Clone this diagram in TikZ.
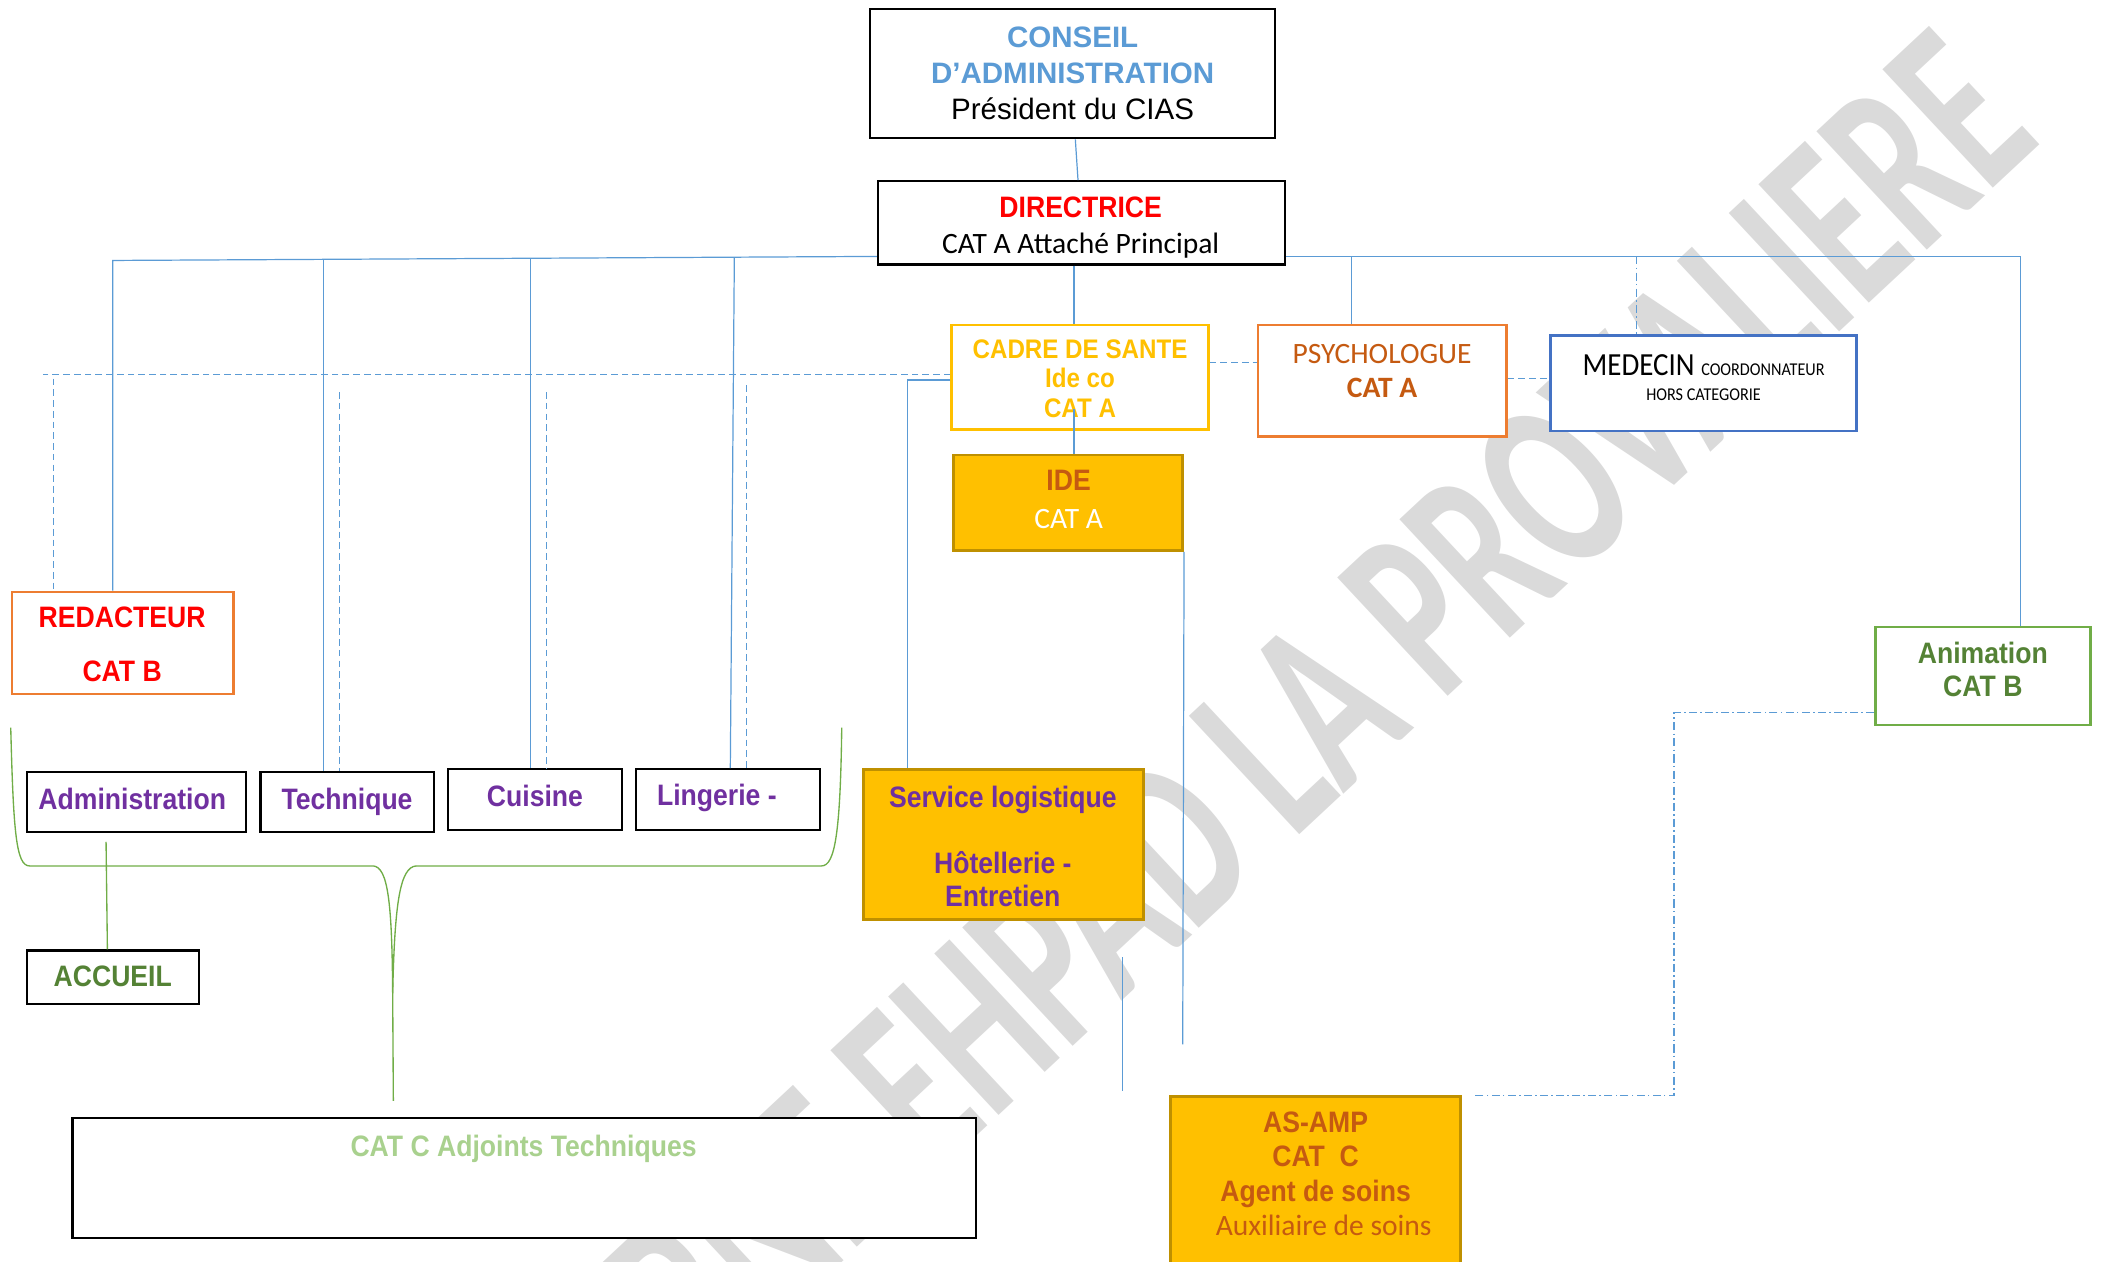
\documentclass[tikz,border=0pt]{standalone}
\usepackage{fontspec}
\setmainfont{Liberation Sans}
\newfontfamily\fnarrow[FakeStretch=0.9]{Liberation Sans}
\newfontfamily\fcal{Carlito}
\newfontfamily\fcalnar[FakeStretch=0.9]{Carlito}
\newfontfamily\fwm[FakeStretch=0.645]{Carlito}
\usetikzlibrary{fit,calc}
\definecolor{cblue}{HTML}{5B9BD5}
\definecolor{cred}{HTML}{FF0000}
\definecolor{cyel}{HTML}{FFC000}
\definecolor{cora}{HTML}{ED7D31}
\definecolor{cbrn}{HTML}{C55A11}
\definecolor{cpur}{HTML}{7030A0}
\definecolor{cgrn}{HTML}{548235}
\definecolor{cgrnb}{HTML}{70AD47}
\definecolor{clgrn}{HTML}{A9D18E}
\definecolor{cmed}{HTML}{4472C4}
\definecolor{cgold}{HTML}{BF9000}
\definecolor{cwm}{HTML}{DADADA}
\begin{document}
\begin{tikzpicture}[x=0.5pt,y=-0.5pt,
  box/.style={draw=black, fill=white, line width=0.8pt, inner sep=0pt},
  cbox/.style={box, line width=1pt},
  gbox/.style={box, draw=cgold, fill=cyel, line width=1pt},
  conn/.style={draw=cblue, line width=0.45pt},
  dsh/.style={conn, dash pattern=on 2.5pt off 1.5pt},
  dshdot/.style={conn, dash pattern=on 3pt off 1.2pt on 0.6pt off 1.2pt},
  gline/.style={draw=cgrnb, line width=0.5pt},
  txt/.style={inner sep=0pt, align=center},
  nb/.style={txt, font=\fnarrow\bfseries\fontsize{11}{13}\selectfont}
]
\useasboundingbox (0,0) rectangle (1568,939.3);
\clip (0,0) rectangle (1568,939.3);

% watermark
\node[rotate=43, anchor=east, text=cwm, inner sep=0pt,
      font=\fwm\bfseries\fontsize{93}{93}\selectfont] (wm) at (1481.6,60.6) {INTERNE EHPAD LA PROVALIERE};

% boxes
\node[box, fit={(648,7) (950,103)}] (conseil) {};
\node[box, fit={(654,135) (957,197)}] (dir) {};
\node[cbox, draw=cyel, fit={(709,242) (900,320)}] (cadre) {};
\node[cbox, draw=cora, fit={(937,242) (1122,325)}] (psy) {};
\node[cbox, draw=cmed, fit={(1155,250) (1383,321)}] (med) {};
\node[gbox, fit={(710,339) (881,410)}] (ide) {};
\node[cbox, draw=cora, fit={(9,441) (174,517)}] (red) {};
\node[box, fit={(20,575) (183,620)}] (adm) {};
\node[box, fit={(194,575) (323,620)}] (tec) {};
\node[box, fit={(334,573) (463,618)}] (cui) {};
\node[box, fit={(474,573) (611,618)}] (lin) {};
\node[box, fit={(20,708) (148,748)}] (acc) {};
\node[box, fit={(54,833) (727,922)}] (catc) {};
\node[gbox, fit={(643,573) (852,685)}] (ser) {};
\node[gbox, fit={(872,817) (1088,965)}] (as) {};
\node[cbox, draw=cgrnb, fit={(1397,467) (1557,540)}] (ani) {};

% texts
\node[txt, text=cblue, font=\bfseries\fontsize{11}{13.5}\selectfont] (conseilT) at (799,54.5)
  {CONSEIL\\D’ADMINISTRATION\\\textcolor{black}{\mdseries Président du CIAS}};
\node[txt, font=\fontsize{11}{13.5}\selectfont] (dirT) at (805,169.5)
  {\textcolor{cred}{\fnarrow\bfseries DIRECTRICE}\\{\fcal CAT A Attaché Principal}};
\node[txt, text=cyel, font=\fnarrow\bfseries\fontsize{10}{11}\selectfont] (cadreT) at (804.5,282)
  {CADRE DE SANTE\\Ide co\\CAT A};
\node[txt, text=cbrn, font=\fcal\fontsize{11}{12.5}\selectfont] (psyT) at (1029.5,276.5)
  {PSYCHOLOGUE\\\textbf{CAT A}};
\node[txt, font=\fcalnar\fontsize{6.7}{9.2}\selectfont] (medT) at (1269,281.4)
  {{\fontsize{12}{12}\selectfont MEDECIN }COORDONNATEUR\\HORS CATEGORIE};
\node[txt, font=\fontsize{11}{14}\selectfont] (ideT) at (796,372)
  {\textcolor{cbrn}{\fnarrow\bfseries IDE}\\\textcolor{white}{\fcal CAT A}};
\node[nb, text=cred, font=\fnarrow\bfseries\fontsize{11}{20}\selectfont] (redT) at (91,480) {REDACTEUR\\CAT B};
\node[nb, text=cpur] (admT) at (98.5,595) {Administration};
\node[nb, text=cpur] (tecT) at (258.5,597) {Technique};
\node[nb, text=cpur] (cuiT) at (398.5,593) {Cuisine};
\node[nb, text=cpur] (linT) at (534,594) {Lingerie -};
\node[nb, text=cgrn] (accT) at (84,727) {ACCUEIL};
\node[nb, text=clgrn] (catcT) at (390,856) {CAT C Adjoints Techniques};
\node[nb, text=cpur, font=\fnarrow\bfseries\fontsize{11}{12.25}\selectfont] (serT) at (747,630.5)
  {Service logistique\\[12.25pt]Hôtellerie -\\Entretien};
\node[nb, text=cbrn, font=\fnarrow\bfseries\fontsize{11}{12.85}\selectfont] (asT) at (980,874.5)
  {AS-AMP\\CAT\ \ C\\Agent de soins\\{\fcal\mdseries\hspace*{6pt}Auxiliaire de soins}};
\node[nb, text=cgrn, font=\fnarrow\bfseries\fontsize{11}{12.5}\selectfont] (aniT) at (1477,498.5)
  {Animation\\CAT B};

% blue connectors
\draw[conn] ($(conseil.south)+(2,0)$) -- ($(dir.north)+(-2.5,0)$);
\coordinate (tl) at (84,194);
\coordinate (jTec) at (241,193.2);
\coordinate (jCui) at (395,192.4);
\coordinate (jLin) at (547,191.6);
\draw[conn] (dir.west |- 0,191) -- (tl) -- (tl |- red.north);
\draw[conn] (jTec) -- (jTec |- tec.north);
\draw[conn] (jCui) -- (jCui |- cui.north);
\draw[conn] (jLin) -- (544,0 |- lin.north);
\draw[conn] (800,0 |- dir.south) -- (800,0 |- cadre.north);
\coordinate (cin) at (800,305);
\draw[conn] (cin) -- (cin |- ide.north);
\coordinate (tr) at (1505,191);
\coordinate (jPsy) at (1007,191);
\coordinate (jMed) at (1219,191);
\draw[conn] (dir.east |- tr) -- (tr) -- (tr |- ani.north);
\draw[conn] (jPsy) -- (jPsy |- psy.north);
\draw[dshdot] (jMed) -- (jMed |- med.north);

% dashed network
\coordinate (dl) at (32,279);
\draw[dsh] (cadre.west |- dl) -- (dl);
\coordinate (dRed) at (40,282);
\coordinate (dTec) at (253,292);
\coordinate (dCui) at (407,292);
\coordinate (dLin) at (556,287);
\draw[dsh] (dRed) -- (dRed |- red.north);
\draw[dsh] (dTec) -- (dTec |- tec.north);
\draw[dsh] (dCui) -- (dCui |- cui.north);
\draw[dsh] (dLin) -- (dLin |- lin.north);
\coordinate (kSer) at (676,283);
\draw[conn] (cadre.west |- kSer) -- (kSer) -- (kSer |- ser.north);
\draw[dsh] (cadre.east |- 0,270) -- (psy.west |- 0,270);
\draw[dsh] (psy.east |- 0,282) -- (med.west |- 0,282);

% IDE line and free line
\coordinate (ideEnd) at (881,778);
\draw[conn] (ide.south east) -- (ideEnd);
\coordinate (f1) at (836,713);
\coordinate (f2) at (836,813);
\draw[conn] (f1) -- (f2);

% Animation to AS-AMP
\coordinate (asEnd) at (1098,816);
\draw[dshdot] (ani.west |- 0,531) -- (1247,531) -- (1247,816) -- (asEnd);

% green
\coordinate (gA) at (79,627);
\draw[gline] (gA) -- (80,0 |- acc.north);
\draw[gline] (8,542) .. controls (10,620) and (12,645) .. (22,645) -- (278,645)
   .. controls (289,646) and (292,672) .. (292.5,740) -- (293,820);
\draw[gline] (310,645) .. controls (298,646) and (294,672) .. (292.5,740);
\draw[gline] (310,645) -- (612,645) .. controls (622,645) and (626,620) .. (627,542);
\end{tikzpicture}
\end{document}
